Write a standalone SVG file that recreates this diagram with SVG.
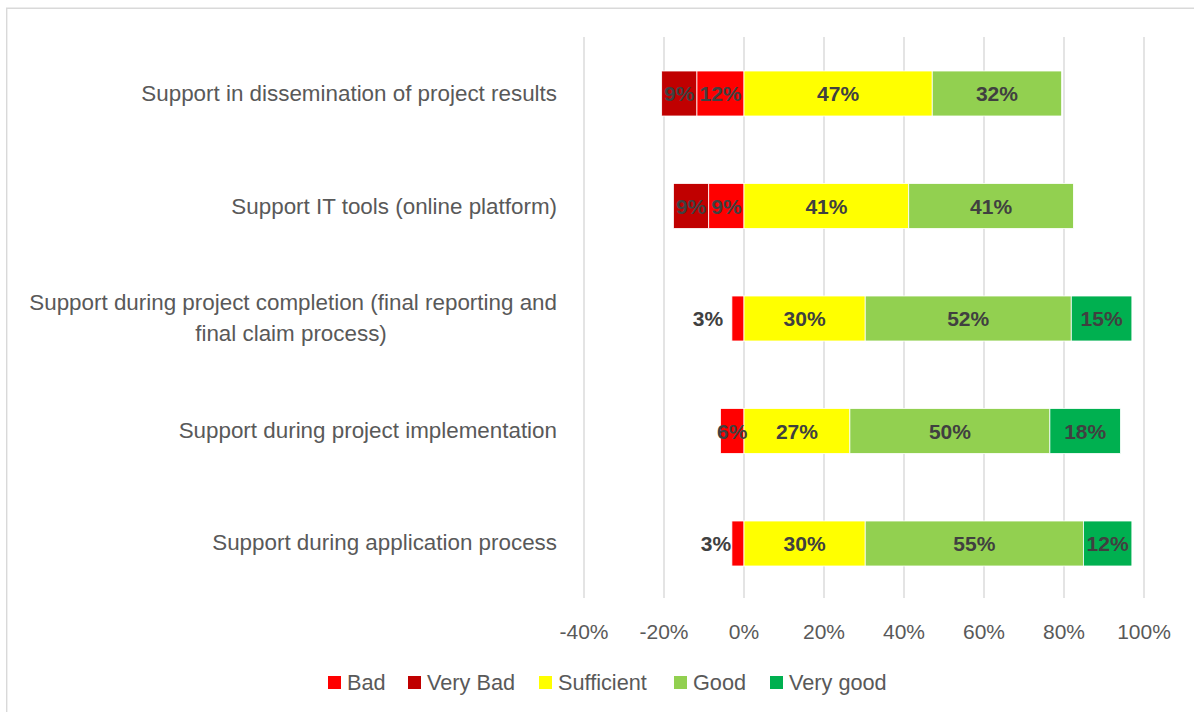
<svg xmlns="http://www.w3.org/2000/svg" width="1194" height="712" viewBox="0 0 1194 712">
<style>
.grid{stroke:#D9D9D9;stroke-width:1.4}
.frame{stroke:#D9D9D9;stroke-width:1.4;fill:none}
.seg{stroke:#FFFFFF;stroke-width:0.8}
.bad{fill:#FF0000}.vbad{fill:#C00000}.suff{fill:#FFFF00}.good{fill:#92D050}.vgood{fill:#00B050}
.cat{font-family:"Liberation Sans",Arial,sans-serif;font-size:22.4px;fill:#595959;text-anchor:end}
.tick{font-family:"Liberation Sans",Arial,sans-serif;font-size:21px;fill:#595959;text-anchor:middle}
.lab{font-family:"Liberation Sans",Arial,sans-serif;font-size:21px;font-weight:bold;fill:#404040;text-anchor:middle}
.leg{font-family:"Liberation Sans",Arial,sans-serif;font-size:21.7px;fill:#595959}
</style>
<rect width="1194" height="712" fill="#FFFFFF"/>
<path class="frame" d="M6.7,712 V8.3 H1194"/>
<g id="gridlines">
<line class="grid" x1="584" y1="37" x2="584" y2="598"/>
<line class="grid" x1="664" y1="37" x2="664" y2="598"/>
<line class="grid" x1="744" y1="37" x2="744" y2="598"/>
<line class="grid" x1="824" y1="37" x2="824" y2="598"/>
<line class="grid" x1="904" y1="37" x2="904" y2="598"/>
<line class="grid" x1="984" y1="37" x2="984" y2="598"/>
<line class="grid" x1="1064" y1="37" x2="1064" y2="598"/>
<line class="grid" x1="1144" y1="37" x2="1144" y2="598"/>
</g>
<g id="row1">
<text class="cat" x="557" y="101">Support in dissemination of project results</text>
<rect class="seg vbad" x="661.65" y="71" width="35.29" height="45"/>
<rect class="seg bad" x="696.94" y="71" width="47.06" height="45"/>
<rect class="seg suff" x="744" y="71" width="188.24" height="45"/>
<rect class="seg good" x="932.24" y="71" width="129.41" height="45"/>
<text class="lab" x="679.3" y="101">9%</text>
<text class="lab" x="720.5" y="101">12%</text>
<text class="lab" x="838.1" y="101">47%</text>
<text class="lab" x="996.9" y="101">32%</text>
</g>
<g id="row2">
<text class="cat" x="557" y="214">Support IT tools (online platform)</text>
<rect class="seg vbad" x="673.41" y="183.5" width="35.3" height="45"/>
<rect class="seg bad" x="708.71" y="183.5" width="35.29" height="45"/>
<rect class="seg suff" x="744" y="183.5" width="164.71" height="45"/>
<rect class="seg good" x="908.71" y="183.5" width="164.7" height="45"/>
<text class="lab" x="691.1" y="213.5">9%</text>
<text class="lab" x="726.4" y="213.5">9%</text>
<text class="lab" x="826.4" y="213.5">41%</text>
<text class="lab" x="991.1" y="213.5">41%</text>
</g>
<g id="row3">
<text class="cat" x="557" y="310">Support during project completion (final reporting and</text>
<text class="cat" x="291" y="341" style="text-anchor:middle">final claim process)</text>
<rect class="seg bad" x="731.88" y="296" width="12.12" height="45"/>
<rect class="seg suff" x="744" y="296" width="121.21" height="45"/>
<rect class="seg good" x="865.21" y="296" width="206.06" height="45"/>
<rect class="seg vgood" x="1071.27" y="296" width="60.61" height="45"/>
<text class="lab" x="708" y="326">3%</text>
<text class="lab" x="804.6" y="326">30%</text>
<text class="lab" x="968.2" y="326">52%</text>
<text class="lab" x="1101.6" y="326">15%</text>
</g>
<g id="row4">
<text class="cat" x="557" y="438">Support during project implementation</text>
<rect class="seg bad" x="720.47" y="408.5" width="23.53" height="45"/>
<rect class="seg suff" x="744" y="408.5" width="105.88" height="45"/>
<rect class="seg good" x="849.88" y="408.5" width="200" height="45"/>
<rect class="seg vgood" x="1049.88" y="408.5" width="70.59" height="45"/>
<text class="lab" x="732.2" y="438.5">6%</text>
<text class="lab" x="796.9" y="438.5">27%</text>
<text class="lab" x="949.9" y="438.5">50%</text>
<text class="lab" x="1085.2" y="438.5">18%</text>
</g>
<g id="row5">
<text class="cat" x="557" y="550">Support during application process</text>
<rect class="seg bad" x="731.88" y="521" width="12.12" height="45"/>
<rect class="seg suff" x="744" y="521" width="121.21" height="45"/>
<rect class="seg good" x="865.21" y="521" width="218.18" height="45"/>
<rect class="seg vgood" x="1083.39" y="521" width="48.49" height="45"/>
<text class="lab" x="716" y="551">3%</text>
<text class="lab" x="804.6" y="551">30%</text>
<text class="lab" x="974.3" y="551">55%</text>
<text class="lab" x="1107.6" y="551">12%</text>
</g>
<g id="axis">
<text class="tick" x="584" y="639">-40%</text>
<text class="tick" x="664" y="639">-20%</text>
<text class="tick" x="744" y="639">0%</text>
<text class="tick" x="824" y="639">20%</text>
<text class="tick" x="904" y="639">40%</text>
<text class="tick" x="984" y="639">60%</text>
<text class="tick" x="1064" y="639">80%</text>
<text class="tick" x="1144" y="639">100%</text>
</g>
<g id="legend">
<rect class="bad" x="328" y="676" width="13" height="13"/>
<text class="leg" x="347" y="690">Bad</text>
<rect class="vbad" x="408" y="676" width="13" height="13"/>
<text class="leg" x="427" y="690">Very Bad</text>
<rect class="suff" x="539" y="676" width="13" height="13"/>
<text class="leg" x="558" y="690">Sufficient</text>
<rect class="good" x="674" y="676" width="13" height="13"/>
<text class="leg" x="693" y="690">Good</text>
<rect class="vgood" x="770" y="676" width="13" height="13"/>
<text class="leg" x="789" y="690">Very good</text>
</g>
</svg>
